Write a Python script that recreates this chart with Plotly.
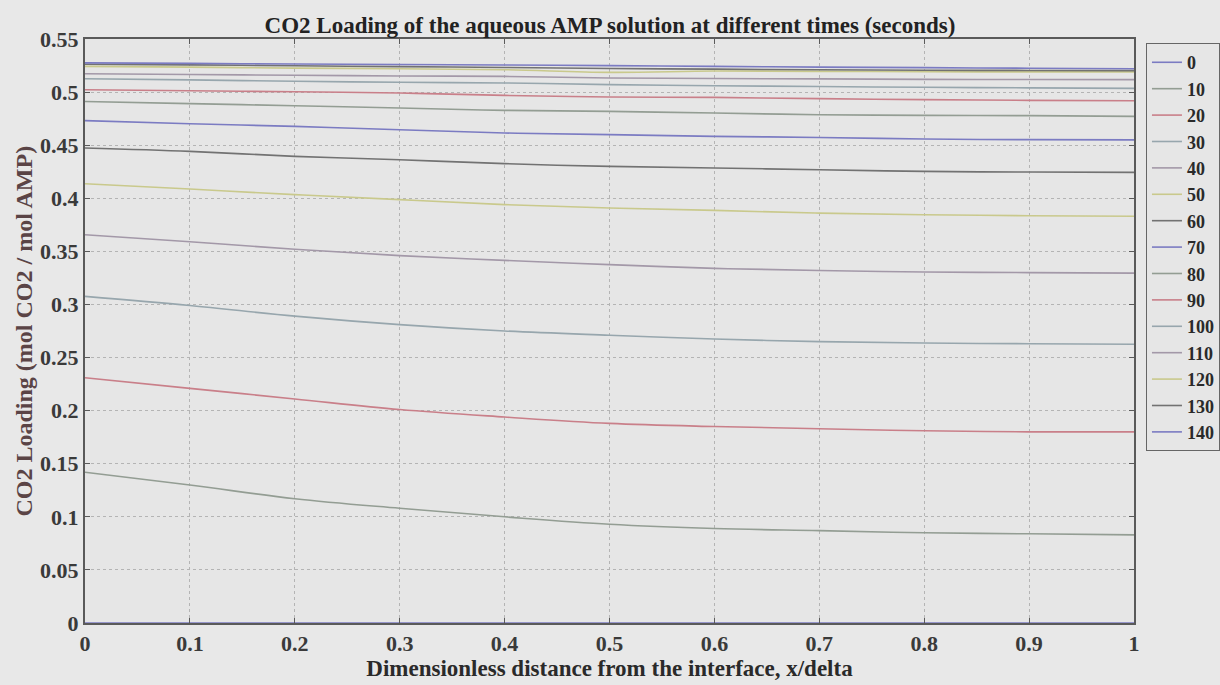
import plotly.graph_objects as go

# x/delta positions (dimensionless distance from the interface)
x_pos = [0.0, 0.1, 0.2, 0.3, 0.4, 0.5, 0.6, 0.7, 0.8, 0.9, 1.0]

# times in seconds (legend labels)
times = [0, 10, 20, 30, 40, 50, 60, 70, 80, 90, 100, 110, 120, 130, 140]

# CO2 loading profiles, one list per time
load_0 = [0.0, 0.0, 0.0, 0.0, 0.0, 0.0, 0.0, 0.0, 0.0, 0.0, 0.0]
load_10 = [0.142, 0.130, 0.117, 0.108, 0.100, 0.093, 0.089, 0.087, 0.085, 0.084, 0.083]
load_20 = [0.231, 0.221, 0.211, 0.201, 0.194, 0.188, 0.185, 0.183, 0.181, 0.180, 0.180]
load_30 = [0.3076, 0.299, 0.289, 0.281, 0.275, 0.271, 0.2675, 0.265, 0.2637, 0.263, 0.2625]
load_40 = [0.3657, 0.359, 0.352, 0.346, 0.3415, 0.3375, 0.334, 0.332, 0.3306, 0.330, 0.3295]
load_50 = [0.4137, 0.4087, 0.4034, 0.3987, 0.394, 0.3908, 0.3886, 0.386, 0.3845, 0.3836, 0.383]
load_60 = [0.4474, 0.4442, 0.4395, 0.4363, 0.4326, 0.430, 0.4285, 0.4269, 0.4253, 0.4247, 0.4244]
load_70 = [0.4731, 0.4702, 0.4677, 0.4646, 0.4615, 0.4599, 0.4583, 0.4573, 0.4558, 0.4552, 0.455]
load_80 = [0.4912, 0.4891, 0.4872, 0.485, 0.4828, 0.4818, 0.4803, 0.4787, 0.4781, 0.4778, 0.4771]
load_90 = [0.5022, 0.5013, 0.5003, 0.4991, 0.4969, 0.4954, 0.495, 0.4938, 0.4929, 0.4922, 0.4919]
load_100 = [0.5126, 0.5115, 0.5102, 0.5092, 0.5086, 0.507, 0.506, 0.5052, 0.5045, 0.504, 0.5035]
load_110 = [0.5173, 0.5166, 0.5158, 0.5152, 0.5148, 0.5133, 0.5128, 0.5124, 0.512, 0.5118, 0.5117]
load_120 = [0.5242, 0.5235, 0.5226, 0.522, 0.5211, 0.5186, 0.5198, 0.5195, 0.5192, 0.519, 0.519]
load_130 = [0.5262, 0.5256, 0.5248, 0.524, 0.5232, 0.5222, 0.5216, 0.521, 0.5206, 0.5204, 0.5202]
load_140 = [0.5275, 0.527, 0.5265, 0.526, 0.5255, 0.5249, 0.5242, 0.5235, 0.523, 0.5225, 0.522]

profiles = [load_0, load_10, load_20, load_30, load_40, load_50, load_60, load_70,
            load_80, load_90, load_100, load_110, load_120, load_130, load_140]

x_ticks = [0, 0.1, 0.2, 0.3, 0.4, 0.5, 0.6, 0.7, 0.8, 0.9, 1]
x_tick_text = ["0", "0.1", "0.2", "0.3", "0.4", "0.5", "0.6", "0.7", "0.8", "0.9", "1"]
y_ticks = [0, 0.05, 0.1, 0.15, 0.2, 0.25, 0.3, 0.35, 0.4, 0.45, 0.5, 0.55]
y_tick_text = ["0", "0.05", "0.1", "0.15", "0.2", "0.25", "0.3", "0.35", "0.4", "0.45", "0.5", "0.55"]

# washed-out MATLAB colour order b g r c m y k
color_order = ["#7b7bc2", "#939d93", "#c97f89", "#97a6ad", "#a398a8", "#c9c98c", "#727272"]

FONT = "Liberation Serif"
BG = "#e6e6e6"

fig = go.Figure()

for i, (t, prof) in enumerate(zip(times, profiles)):
    fig.add_trace(go.Scatter(
        x=x_pos,
        y=prof,
        mode="lines",
        name=f"<b>{t}</b>",
        line=dict(color=color_order[i % len(color_order)], width=1.6, shape="spline"),
    ))

axis_common = dict(
    showline=True,
    linecolor="#5a5a5a",
    linewidth=2,
    mirror="ticks",
    ticks="inside",
    ticklen=5,
    tickcolor="#5a5a5a",
    showgrid=True,
    gridcolor="#b4b4b4",
    griddash="dot",
    gridwidth=1,
    zeroline=False,
    tickfont=dict(family=FONT, size=22, color="#3a3a3a"),
)

fig.update_xaxes(
    range=[0, 1],
    tickvals=x_ticks,
    ticktext=[f"<b>{s}</b>" for s in x_tick_text],
    title=dict(
        text="<b>Dimensionless distance from the interface, x/delta</b>",
        font=dict(family=FONT, size=23, color="#2a2a2a"),
        standoff=2,
    ),
    **axis_common,
)

fig.update_yaxes(
    range=[0, 0.55],
    tickvals=y_ticks,
    ticktext=[f"<b>{s}</b>" for s in y_tick_text],
    **axis_common,
)

fig.add_annotation(
    text="<b>CO2 Loading (mol CO2 / mol AMP)</b>",
    xref="paper", yref="paper",
    x=-0.0586, y=0.5,
    xanchor="center", yanchor="middle",
    textangle=-90,
    showarrow=False,
    font=dict(family=FONT, size=24, color="#5a4446"),
)

fig.update_layout(
    width=1220,
    height=685,
    paper_bgcolor="#e8e8e8",
    plot_bgcolor=BG,
    margin=dict(l=85, r=86, t=39, b=62, autoexpand=False),
    title=dict(
        text="<b>CO2 Loading of the aqueous AMP solution at different times (seconds)</b>",
        font=dict(family=FONT, size=23, color="#222222"),
        x=0.5, xanchor="center",
        y=0.9635, yanchor="middle",
    ),
    legend=dict(
        x=1.0114, y=0.993,
        xanchor="left", yanchor="top",
        bgcolor=BG,
        bordercolor="#666666",
        borderwidth=1,
        font=dict(family=FONT, size=18, color="#2a2a2a"),
        tracegroupgap=0,
        itemwidth=30,
    ),
    showlegend=True,
)

# drop the default page margin so the figure sits at the window's top-left corner
fig.write_html(
    "out.html",
    config={"displayModeBar": False},
    post_script="document.body.style.margin='0';",
)
